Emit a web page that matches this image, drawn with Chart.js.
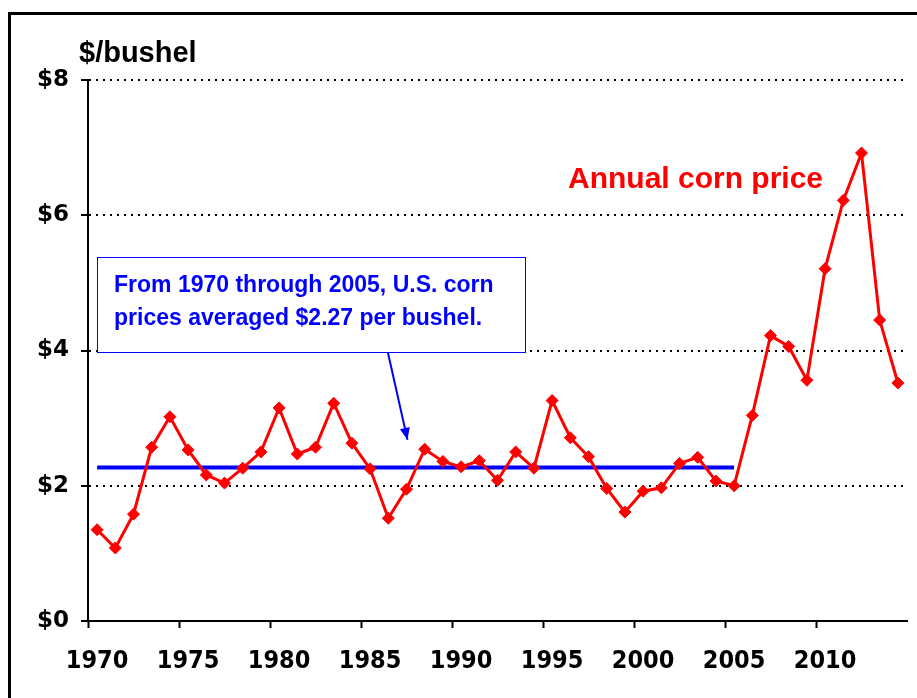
<!DOCTYPE html>
<html>
<head>
<meta charset="utf-8">
<script src="https://cdn.jsdelivr.net/npm/chart.js"></script>
<style>
  html, body { margin: 0; padding: 0; background: #fff; }
  body { width: 917px; height: 698px; position: relative; overflow: hidden; }
  #frame { position: absolute; left: 8px; top: 12px; width: 1000px; height: 1000px; border: 3px solid #000; }
  #wrap { position: absolute; left: 0; top: 0; width: 917px; height: 698px; }
</style>
</head>
<body>
<div id="frame"></div>
<div id="wrap"><canvas id="cornChart" width="917" height="698"></canvas></div>
<script>
// Data
const years = [];
for (let y = 1970; y <= 2014; y++) years.push(String(y));

const cornPrice = [
  1.35, 1.08, 1.58, 2.57, 3.02, 2.53, 2.16, 2.04, 2.26, 2.50,
  3.15, 2.47, 2.57, 3.22, 2.63, 2.25, 1.52, 1.95, 2.54, 2.36,
  2.28, 2.37, 2.08, 2.50, 2.26, 3.26, 2.71, 2.43, 1.96, 1.61,
  1.92, 1.97, 2.33, 2.42, 2.07, 2.00, 3.04, 4.22, 4.06, 3.56,
  5.21, 6.22, 6.92, 4.45, 3.52
];

const avgPrice = 2.27;
const avgLastYear = '2005';
const avgLine = years.map(y => (Number(y) <= Number(avgLastYear) ? avgPrice : null));

const yTicks = [0, 2, 4, 6, 8];
const noteLines = ['From 1970 through 2005, U.S. corn', 'prices averaged $2.27 per bushel.'];

const ctx = document.getElementById('cornChart').getContext('2d');

// Extra text, box and arrow
const extras = {
  id: 'extras',
  afterDraw(chart) {
    const c = chart.ctx;
    const x = chart.scales.x, y = chart.scales.y;
    c.save();

    // unit label
    c.fillStyle = '#000';
    c.font = 'bold 29px "Liberation Sans", Arial, sans-serif';
    c.textBaseline = 'alphabetic';
    c.fillText('$/bushel', 79, 62);

    // series label
    c.fillStyle = '#ff0000';
    c.font = 'bold 30px "Liberation Sans", Arial, sans-serif';
    c.fillText('Annual corn price', 568, 188);

    // note box
    c.fillStyle = '#fff';
    c.fillRect(97, 257, 428, 95);
    c.strokeStyle = '#0000ff';
    c.lineWidth = 1;
    c.strokeRect(97.5, 257.5, 428, 95);
    c.fillStyle = '#0000ff';
    c.font = 'bold 23px "Liberation Sans", Arial, sans-serif';
    c.textBaseline = 'middle';
    c.fillText(noteLines[0], 114, 286);
    c.fillText(noteLines[1], 114, 319);

    // arrow from box to the average line area
    const x0 = 388, y0 = 353;
    const x1 = x.getPixelForValue(years.indexOf('1987')) + 1;
    const y1 = y.getPixelForValue(2.68);
    c.strokeStyle = '#0000ff';
    c.lineWidth = 2;
    c.beginPath();
    c.moveTo(x0, y0);
    c.lineTo(x1, y1);
    c.stroke();
    const ang = Math.atan2(y1 - y0, x1 - x0);
    const len = 12, w = 5;
    c.beginPath();
    c.moveTo(x1, y1);
    c.lineTo(x1 - len * Math.cos(ang) + w * Math.sin(ang), y1 - len * Math.sin(ang) - w * Math.cos(ang));
    c.lineTo(x1 - len * Math.cos(ang) - w * Math.sin(ang), y1 - len * Math.sin(ang) + w * Math.cos(ang));
    c.closePath();
    c.fill();

    c.restore();
  }
};

new Chart(ctx, {
  type: 'line',
  data: {
    labels: years,
    datasets: [
      {
        label: 'Average 1970-2005',
        data: avgLine,
        borderColor: '#0000ff',
        borderWidth: 4,
        pointRadius: 0,
        spanGaps: false,
        order: 2
      },
      {
        label: 'Annual corn price',
        data: cornPrice,
        borderColor: '#ff0000',
        backgroundColor: '#ff0000',
        borderWidth: 3,
        pointStyle: 'rectRot',
        pointRadius: 6,
        pointBorderWidth: 1,
        tension: 0,
        order: 1
      }
    ]
  },
  options: {
    responsive: false,
    animation: false,
    layout: { padding: { top: 80, left: 0, right: 10, bottom: 0 } },
    plugins: {
      legend: { display: false },
      tooltip: { enabled: false }
    },
    scales: {
      x: {
        type: 'category',
        offset: true,
        afterFit(scale) { scale.height = 77; },
        border: { display: true, color: '#000', width: 2 },
        grid: {
          offset: true,
          drawOnChartArea: false,
          drawTicks: true,
          tickLength: 7,
          tickWidth: 2,
          color: c => (c.index % 5 === 0 ? '#000' : 'rgba(0,0,0,0)'),
          tickColor: c => (c.index % 5 === 0 ? '#000' : 'rgba(0,0,0,0)')
        },
        ticks: {
          autoSkip: false,
          maxRotation: 0,
          padding: 18,
          color: '#000',
          font: { family: '"DejaVu Sans Condensed", "DejaVu Sans", sans-serif', weight: 'bold', size: 25 },
          callback: function(v, i) { const lab = years[i]; return Number(lab) % 5 === 0 ? lab : ''; }
        }
      },
      y: {
        min: 0,
        max: 8,
        afterFit(scale) { scale.width = 88; },
        afterBuildTicks(scale) { scale.ticks = yTicks.map(v => ({ value: v })); },
        border: { display: true, color: '#000', width: 2, dash: [2, 5] },
        grid: {
          color: c => (c.tick && c.tick.value > 0 ? '#000' : 'rgba(0,0,0,0)'),
          lineWidth: 2,
          tickBorderDash: [],
          tickColor: '#000',
          tickLength: 7,
          tickWidth: 2
        },
        ticks: {
          padding: 12,
          color: '#000',
          font: { family: '"DejaVu Sans", Verdana, sans-serif', weight: 'bold', size: 23 },
          callback: v => '$' + v
        }
      }
    }
  },
  plugins: [extras]
});
</script>
</body>
</html>
